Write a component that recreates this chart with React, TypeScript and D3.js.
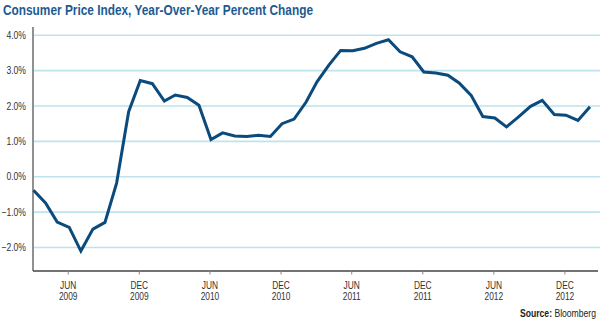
import React from "react";
import * as d3 from "d3";

const startMonth = new Date(2009, 2, 1); // Mar 2009
const cpiValues: number[] = [
  -0.38, -0.74, -1.28, -1.43, -2.1, -1.48, -1.29, -0.18, 1.84, 2.72,
  2.63, 2.14, 2.31, 2.24, 2.02, 1.05, 1.24, 1.15, 1.14, 1.17, 1.14, 1.5,
  1.63, 2.11, 2.68, 3.16, 3.57, 3.56, 3.63, 3.77, 3.87, 3.53, 3.39, 2.96,
  2.93, 2.87, 2.65, 2.3, 1.7, 1.66, 1.41, 1.69, 1.99, 2.16, 1.76, 1.74,
  1.59, 1.98,
];
const yTicks: number[] = [-2, -1, 0, 1, 2, 3, 4];
const xTickDates: Date[] = [
  new Date(2009, 5, 1), new Date(2009, 11, 1), new Date(2010, 5, 1), new Date(2010, 11, 1),
  new Date(2011, 5, 1), new Date(2011, 11, 1), new Date(2012, 5, 1), new Date(2012, 11, 1),
];
const xTickMonths: string[] = ["JUN", "DEC", "JUN", "DEC", "JUN", "DEC", "JUN", "DEC"];
const xTickYears: string[] = ["2009", "2009", "2010", "2010", "2011", "2011", "2012", "2012"];
const title = "Consumer Price Index, Year-Over-Year Percent Change";

const FONT = "'Liberation Sans', Arial, sans-serif";
const SQ = 0.82;

function CText(props: {
  x: number;
  y: number;
  anchor?: "start" | "middle" | "end";
  size: number;
  fill: string;
  weight?: string;
  children: React.ReactNode;
}) {
  return (
    <g transform={`translate(${props.x},${props.y}) scale(${SQ},1)`}>
      <text
        x={0}
        y={0}
        textAnchor={props.anchor || "start"}
        fontFamily={FONT}
        fontSize={props.size}
        fontWeight={props.weight || "normal"}
        fill={props.fill}
      >
        {props.children}
      </text>
    </g>
  );
}

export default function App() {
  const data = cpiValues.map((v, i) => ({ date: d3.timeMonth.offset(startMonth, i), value: v }));
  const x = d3
    .scaleTime()
    .domain([data[0].date, data[data.length - 1].date])
    .range([33.5, 590]);
  const y = d3.scaleLinear().domain([-2, 4]).range([247.5, 35.2]);
  const line = d3
    .line<{ date: Date; value: number }>()
    .x((d) => x(d.date))
    .y((d) => y(d.value))
    .curve(d3.curveLinear);

  return (
    <svg
      width={600}
      height={325}
      style={{ position: "absolute", left: 0, top: 0, background: "#fff" }}
    >
      <text
        x={3}
        y={15}
        fontFamily={FONT}
        fontWeight="bold"
        fontSize={14.5}
        fill="#1d5a91"
        textLength={310}
        lengthAdjust="spacingAndGlyphs"
      >
        {title}
      </text>
      {yTicks.map((t) => (
        <g key={t}>
          <line x1={34} x2={600} y1={y(t)} y2={y(t)} stroke="#bde3ec" strokeWidth={1.6} />
          <CText x={26} y={y(t) + 3.6} anchor="end" size={10.5} fill="#333">
            {d3.format(".1f")(t) + "%"}
          </CText>
        </g>
      ))}
      <line x1={33} x2={33} y1={27} y2={271} stroke="#555" strokeWidth={1.3} />
      <line x1={33} x2={598} y1={271} y2={271} stroke="#444" strokeWidth={1.3} />
      {xTickDates.map((d, i) => (
        <g key={i}>
          <line x1={x(d) - 1} x2={x(d) - 1} y1={271} y2={274.5} stroke="#888" strokeWidth={1} />
          <CText x={x(d) - 1} y={288.5} anchor="middle" size={10.2} fill="#333">
            {xTickMonths[i]}
          </CText>
          <CText x={x(d) - 1} y={299.5} anchor="middle" size={10.2} fill="#333">
            {xTickYears[i]}
          </CText>
        </g>
      ))}
      <path
        d={line(data) || ""}
        fill="none"
        stroke="#0b4a7c"
        strokeWidth={3}
        strokeLinejoin="miter"
      />
      <CText x={596} y={317} anchor="end" size={10.5} fill="#222">
        <tspan fontWeight="bold">Source:</tspan> Bloomberg
      </CText>
    </svg>
  );
}
